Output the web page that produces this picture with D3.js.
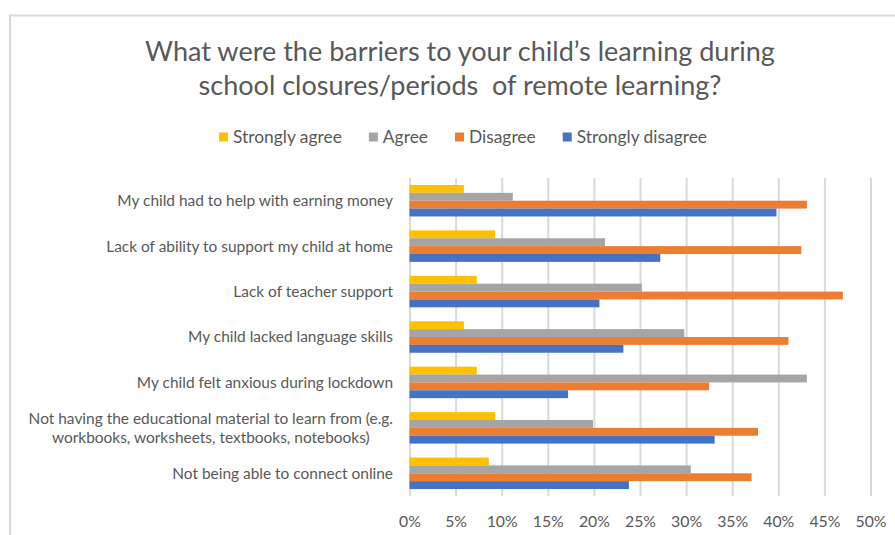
<!DOCTYPE html>
<html>
<head>
<meta charset="utf-8">
<script src="https://cdn.jsdelivr.net/npm/d3@7"></script>
<style>
  html, body { margin: 0; padding: 0; background: #fff; }
  svg { display: block; }
  text { white-space: pre; }
</style>
</head>
<body>
<svg id="chart" width="895" height="535"></svg>
<script>
// ---------------- DATA ----------------
const titleLines = ["What were the barriers to your child\u2019s learning during", "school closures/periods  of remote learning?"];
const categories = [
  "My child had to help with earning money",
  "Lack of ability to support my child at home",
  "Lack of teacher support",
  "My child lacked language skills",
  "My child felt anxious during lockdown",
  "Not having the educational material to learn from (e.g.\nworkbooks, worksheets, textbooks, notebooks)",
  "Not being able to connect online"
];
const seriesNames = ["Strongly agree", "Agree", "Disagree", "Strongly disagree"];
const seriesColors = ["#FFC000", "#A5A5A5", "#ED7D31", "#4472C4"];
const stronglyAgree    = [5.9, 9.3, 7.3, 5.9, 7.3, 9.3, 8.6];
const agree            = [11.2, 21.2, 25.2, 29.8, 43.1, 19.9, 30.5];
const disagree         = [43.1, 42.5, 47.0, 41.1, 32.5, 37.8, 37.1];
const stronglyDisagree = [39.8, 27.2, 20.6, 23.2, 17.2, 33.1, 23.8];
const tickValues = [0, 5, 10, 15, 20, 25, 30, 35, 40, 45, 50];

const seriesValues = [stronglyAgree, agree, disagree, stronglyDisagree];

// ---------------- LAYOUT ----------------
const FONT = "Lato, 'Open Sans', sans-serif";
const TEXT = "#595959";
const GRID = "#D9D9D9";
const plot = { left: 409.5, right: 870.5, top: 178, bottom: 496 };

const svg = d3.select("#chart");

function fitSize(str, size, targetW) {
  const t = svg.append("text").attr("font-family", FONT).attr("font-size", size).text(str);
  const w = t.node().getComputedTextLength();
  t.remove();
  return size * targetW / w;
}

// border
svg.append("path")
  .attr("d", "M10,535 L10,15.5 L895,15.5")
  .attr("fill", "none").attr("stroke", GRID).attr("stroke-width", 2);

// title
const titleSize = fitSize(titleLines[0], 24, 630);
const titleY = [61, 95];
svg.selectAll("text.title").data(titleLines).join("text")
  .attr("class", "title")
  .attr("x", 460).attr("y", (d, i) => titleY[i])
  .attr("text-anchor", "middle")
  .attr("font-family", FONT).attr("font-size", titleSize)
  .attr("fill", TEXT)
  .text(d => d);

// legend
const legSize = fitSize("Strongly agree", 16, 109);
const legend = svg.append("g");
let lx = 0;
seriesNames.forEach((name, i) => {
  const g = legend.append("g").attr("transform", `translate(${lx},0)`);
  g.append("rect").attr("x", 0).attr("y", -4.5).attr("width", 9).attr("height", 9).attr("fill", seriesColors[i]);
  const t = g.append("text").attr("x", 14).attr("y", 0).attr("dy", "0.35em")
    .attr("font-family", FONT).attr("font-size", legSize).attr("fill", TEXT).text(name);
  lx += 14 + t.node().getComputedTextLength() + 27;
});
const legW = lx - 27;
legend.attr("transform", `translate(${463 - legW / 2},137)`);

// scales
const x = d3.scaleLinear().domain([0, 50]).range([plot.left, plot.right]);
const y = d3.scaleBand().domain(d3.range(categories.length)).range([plot.top, plot.bottom])
  .paddingInner(0.307).paddingOuter(0.1535);
const ys = d3.scaleBand().domain(d3.range(seriesNames.length)).range([0, y.bandwidth()]);

// gridlines
const grid = svg.append("g").attr("transform", `translate(0,${plot.bottom})`)
  .call(d3.axisBottom(x).tickValues(tickValues).tickSize(-(plot.bottom - plot.top)).tickFormat(""));
grid.select(".domain").remove();
grid.selectAll("line").attr("stroke", GRID).attr("stroke-width", 2);

// bars
const groups = svg.append("g").selectAll("g").data(categories).join("g")
  .attr("transform", (d, i) => `translate(0,${y(i)})`);
groups.selectAll("rect")
  .data((d, ci) => seriesValues.map((vals, si) => ({ si, v: vals[ci] })))
  .join("rect")
  .attr("x", x(0))
  .attr("y", d => ys(d.si))
  .attr("width", d => x(d.v) - x(0))
  .attr("height", ys.bandwidth())
  .attr("fill", d => seriesColors[d.si]);

// x axis labels
const tickSize = fitSize("50%", 16, 31);
const xAxis = svg.append("g").attr("transform", `translate(0,${plot.bottom})`)
  .call(d3.axisBottom(x).tickValues(tickValues).tickSize(0).tickFormat(d => d + "%"));
xAxis.select(".domain").remove();
xAxis.selectAll("text")
  .attr("y", 31).attr("dy", 0)
  .attr("font-family", FONT).attr("font-size", tickSize).attr("fill", TEXT);

// category labels
const catSize = fitSize(categories[0], 15, 276);
const labelRight = 393;
const lineH = 18.5;
categories.forEach((c, i) => {
  const lines = c.split("\n");
  const cy = y(i) + y.bandwidth() / 2;
  const t = svg.append("text").attr("font-family", FONT).attr("font-size", catSize).attr("fill", TEXT);
  if (lines.length === 1) {
    t.attr("x", labelRight).attr("y", cy).attr("dy", "0.35em").attr("text-anchor", "end").text(c);
  } else {
    const tmp = svg.append("text").attr("font-family", FONT).attr("font-size", catSize).text(lines[0]);
    const w1 = tmp.node().getComputedTextLength();
    tmp.remove();
    const cx = labelRight - w1 / 2;
    t.attr("text-anchor", "middle");
    lines.forEach((ln, k) => {
      t.append("tspan").attr("x", cx)
        .attr("y", cy + (k - (lines.length - 1) / 2) * lineH)
        .attr("dy", "0.35em").text(ln);
    });
  }
});
</script>
</body>
</html>
